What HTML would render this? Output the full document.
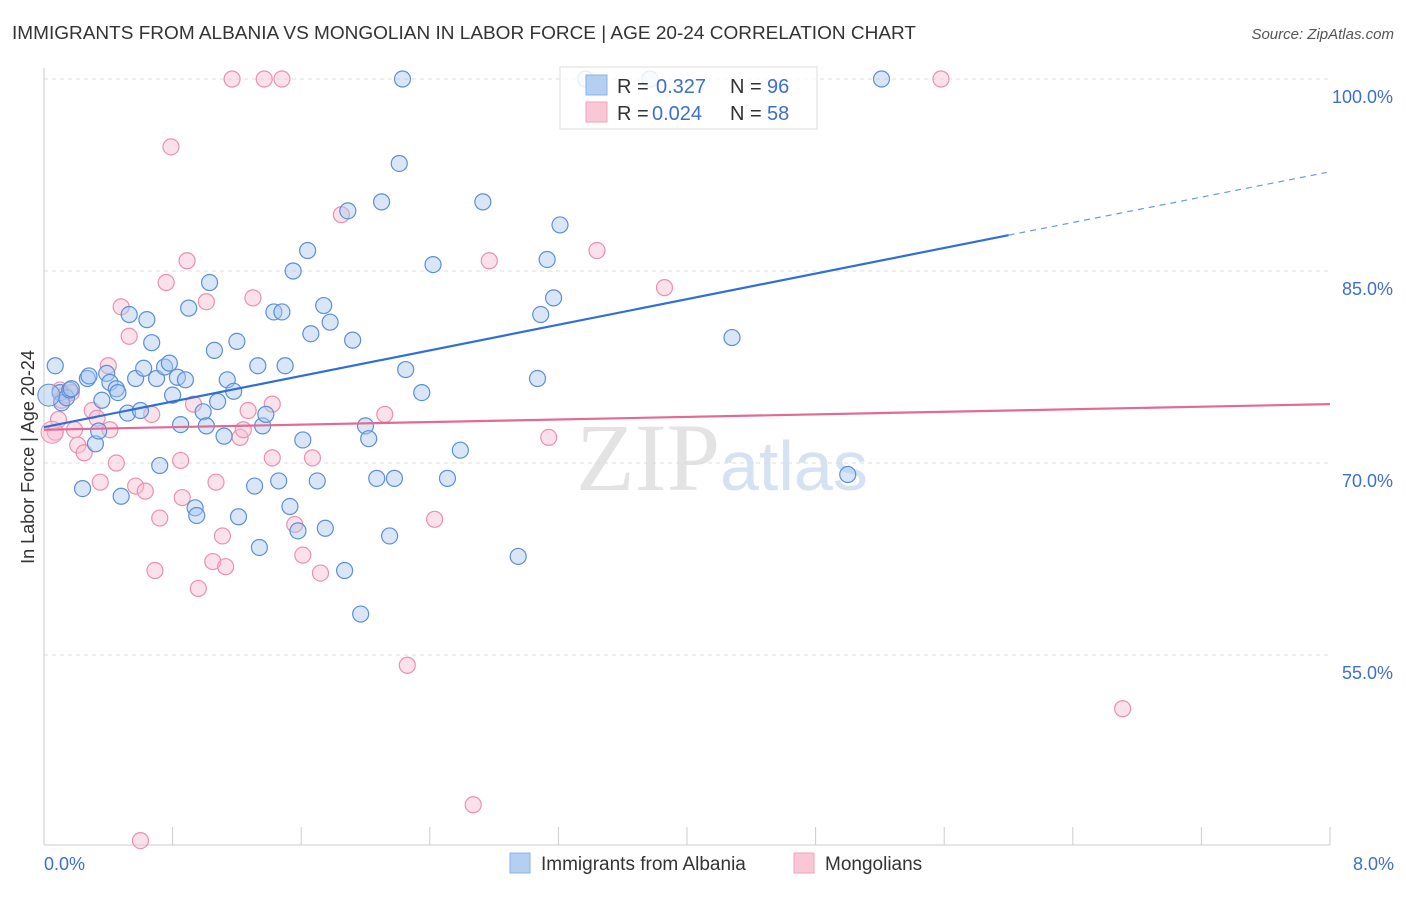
<!DOCTYPE html>
<html><head><meta charset="utf-8"><style>
body{margin:0;background:#fff;font-family:"Liberation Sans",sans-serif}
</style></head><body>
<svg id="chart" width="1406" height="892" xmlns="http://www.w3.org/2000/svg" font-family="Liberation Sans, sans-serif">
<text x="12" y="39" font-size="18" fill="#333" textLength="904" lengthAdjust="spacingAndGlyphs">IMMIGRANTS FROM ALBANIA VS MONGOLIAN IN LABOR FORCE | AGE 20-24 CORRELATION CHART</text>
<text x="1394" y="39" font-size="15" fill="#555" text-anchor="end" font-style="italic">Source: ZipAtlas.com</text>
<text x="720" y="490" font-size="96" text-anchor="end" fill="#e3e3e3" font-family="Liberation Serif, serif">ZIP</text>
<text x="720" y="490" font-size="70" fill="#d5e2f3">atlas</text>
<g id="grid"></g>
<g id="axes"></g>
<g id="marks"></g>
<text transform="translate(34,457) rotate(-90)" font-size="18" fill="#333" text-anchor="middle">In Labor Force | Age 20-24</text>
<text x="44" y="870" font-size="18" fill="#3d6fcf">0.0%</text>
<text x="1394" y="870" font-size="18" fill="#3d6fcf" text-anchor="end">8.0%</text>
<g>
<rect x="560" y="67" width="257" height="62" fill="#fff" fill-opacity="0.85" stroke="#ddd"/>
<rect x="586" y="75" width="21" height="20" fill="#b5cff2" stroke="#8cb1e6"/>
<rect x="586" y="102" width="21" height="20" fill="#f9c7d6" stroke="#f0a3ba"/>
<text x="617" y="93" font-size="20" fill="#333">R =</text>
<text x="656" y="93" font-size="20" fill="#3d6fcf">0.327</text>
<text x="730" y="93" font-size="20" fill="#333">N =</text>
<text x="767" y="93" font-size="20" fill="#3d6fcf">96</text>
<text x="617" y="120" font-size="20" fill="#333">R =</text>
<text x="652" y="120" font-size="20" fill="#3d6fcf">0.024</text>
<text x="730" y="120" font-size="20" fill="#333">N =</text>
<text x="767" y="120" font-size="20" fill="#3d6fcf">58</text>
</g>
<g>
<rect x="510" y="853" width="20" height="20" fill="#b5cff2" stroke="#8cb1e6"/>
<text x="541" y="870" font-size="19" fill="#333">Immigrants from Albania</text>
<rect x="794" y="853" width="20" height="20" fill="#f9c7d6" stroke="#f0a3ba"/>
<text x="825" y="870" font-size="19" fill="#333">Mongolians</text>
</g>
</svg>
<script>
const yTicks=[100,85,70,55];
const yTickLabels=["100.0%","85.0%","70.0%","55.0%"];
const xTicks=[0,0.8,1.6,2.4,3.2,4,4.8,5.6,6.4,7.2,8];
const blueX=[0.07,0.10,0.11,0.14,0.16,0.17,0.24,0.27,0.28,0.32,0.34,0.36,0.39,0.41,0.45,0.46,0.48,0.52,0.53,0.57,0.60,0.62,0.64,0.67,0.70,0.72,0.75,0.78,0.80,0.83,0.85,0.88,0.90,0.94,0.95,0.99,1.01,1.03,1.06,1.08,1.12,1.14,1.18,1.20,1.21,1.31,1.33,1.34,1.36,1.38,1.43,1.46,1.48,1.50,1.53,1.55,1.58,1.61,1.64,1.66,1.70,1.74,1.75,1.78,1.87,1.89,1.92,1.97,2.00,2.02,2.07,2.10,2.15,2.18,2.21,2.23,2.25,2.35,2.42,2.51,2.59,2.73,2.95,3.07,3.09,3.13,3.17,3.21,3.37,3.77,4.28,5.00,5.21];
const blueY=[77.6,75.5,74.7,75.1,75.7,75.8,68.0,76.6,76.8,71.5,72.5,74.9,77.0,76.3,75.8,75.5,67.4,73.9,81.6,76.6,74.1,77.4,81.2,79.4,76.6,69.8,77.5,77.8,75.3,76.7,73.0,76.5,82.1,66.5,65.9,74.0,72.9,84.1,78.8,74.8,72.1,76.5,75.6,79.5,65.8,68.2,77.6,63.4,72.9,73.8,81.8,68.6,81.8,77.6,66.6,85.0,64.7,71.8,86.6,80.1,68.6,82.3,64.9,81.0,61.6,89.7,79.6,58.2,72.9,71.9,68.8,90.4,64.3,68.8,93.4,100.0,77.3,75.5,85.5,68.8,71.0,90.4,62.7,76.6,81.6,85.9,82.9,88.6,100.0,100.0,79.8,69.1,100.0];
const pinkX=[0.07,0.09,0.10,0.11,0.13,0.17,0.19,0.21,0.25,0.30,0.33,0.35,0.41,0.45,0.48,0.53,0.40,0.57,0.60,0.63,0.67,0.69,0.72,0.76,0.79,0.85,0.86,0.89,0.93,0.96,1.01,1.05,1.07,1.11,1.13,1.17,1.22,1.24,1.27,1.30,1.37,1.42,1.42,1.48,1.56,1.61,1.67,1.72,1.85,2.12,2.26,2.67,2.43,2.77,3.14,3.44,3.86,5.58,6.71];
const pinkY=[72.4,73.4,75.7,74.9,75.3,75.5,72.6,71.4,70.8,74.1,73.5,68.5,72.6,70.0,82.2,79.9,77.6,68.2,40.5,67.8,73.8,61.6,65.7,84.1,94.7,70.2,67.3,85.8,74.6,60.2,82.6,62.3,68.5,64.3,61.9,100.0,72.0,72.6,74.1,82.9,100.0,74.6,70.4,100.0,65.2,62.8,70.4,61.4,89.4,73.8,54.2,43.3,65.6,85.8,72.0,86.6,83.7,100.0,50.8];
const blueLine=[[0,72.8],[6.0,87.8]];
const blueDash=[[6.0,87.8],[7.98,92.7]];
const pinkLine=[[0,72.6],[8,74.6]];
const NS="http://www.w3.org/2000/svg";
const X=v=>44+v*160.75, Y=v=>79+(100-v)*12.8;
function mk(tag,attrs,parent){const e=document.createElementNS(NS,tag);for(const k in attrs)e.setAttribute(k,attrs[k]);document.getElementById(parent).appendChild(e);return e;}
yTicks.forEach((t,i)=>{
 const l=mk('line',{x1:44,x2:1330,y1:Y(t),y2:Y(t),stroke:'#ddd','stroke-dasharray':'4,4'},'grid');
 
 
 const tx=mk('text',{x:1393,y:Y(t)+24,'font-size':18,fill:'#3d6fcf','text-anchor':'end'},'grid');
 tx.textContent=yTickLabels[i];
 
 
});
const ax=mk('line',{x1:44,x2:1330,y1:845,y2:845,stroke:'#ccc'},'axes');


const ay=mk('line',{x1:44,x2:44,y1:68,y2:845,stroke:'#ccc'},'axes');


xTicks.forEach(t=>{const l=mk('line',{x1:X(t),x2:X(t),y1:827,y2:845,stroke:'#ccc'},'axes');
 
 });
function pts(xs,ys,fill,stroke,name){xs.forEach((x,i)=>{const c=mk('circle',{cx:X(x),cy:Y(ys[i]),r:8,fill:fill,'fill-opacity':0.45,stroke:stroke,'stroke-width':1.2},'marks');
 
 });}
pts(pinkX,pinkY,'#f7bfd1','#ee8fae','mongolian-point');
pts(blueX,blueY,'#a9c8f0','#5b8fd8','albania-point');
const bc=mk('circle',{cx:X(0.03),cy:Y(75.3),r:11,fill:'#a9c8f0','fill-opacity':0.5,stroke:'#5b8fd8'},'marks');


const pc=mk('circle',{cx:X(0.05),cy:Y(72.4),r:11,fill:'#f7bfd1','fill-opacity':0.5,stroke:'#ee8fae'},'marks');


const l1=mk('line',{x1:X(blueLine[0][0]),y1:Y(blueLine[0][1]),x2:X(blueLine[1][0]),y2:Y(blueLine[1][1]),stroke:'#2f6fd6','stroke-width':2.2},'marks');


const l2=mk('line',{x1:X(blueDash[0][0]),y1:Y(blueDash[0][1]),x2:X(blueDash[1][0]),y2:Y(blueDash[1][1]),stroke:'#6d9be0','stroke-width':1.2,'stroke-dasharray':'6,5'},'marks');


const l3=mk('line',{x1:X(pinkLine[0][0]),y1:Y(pinkLine[0][1]),x2:X(pinkLine[1][0]),y2:Y(pinkLine[1][1]),stroke:'#e46a96','stroke-width':2.2},'marks');


</script>
</body></html>
